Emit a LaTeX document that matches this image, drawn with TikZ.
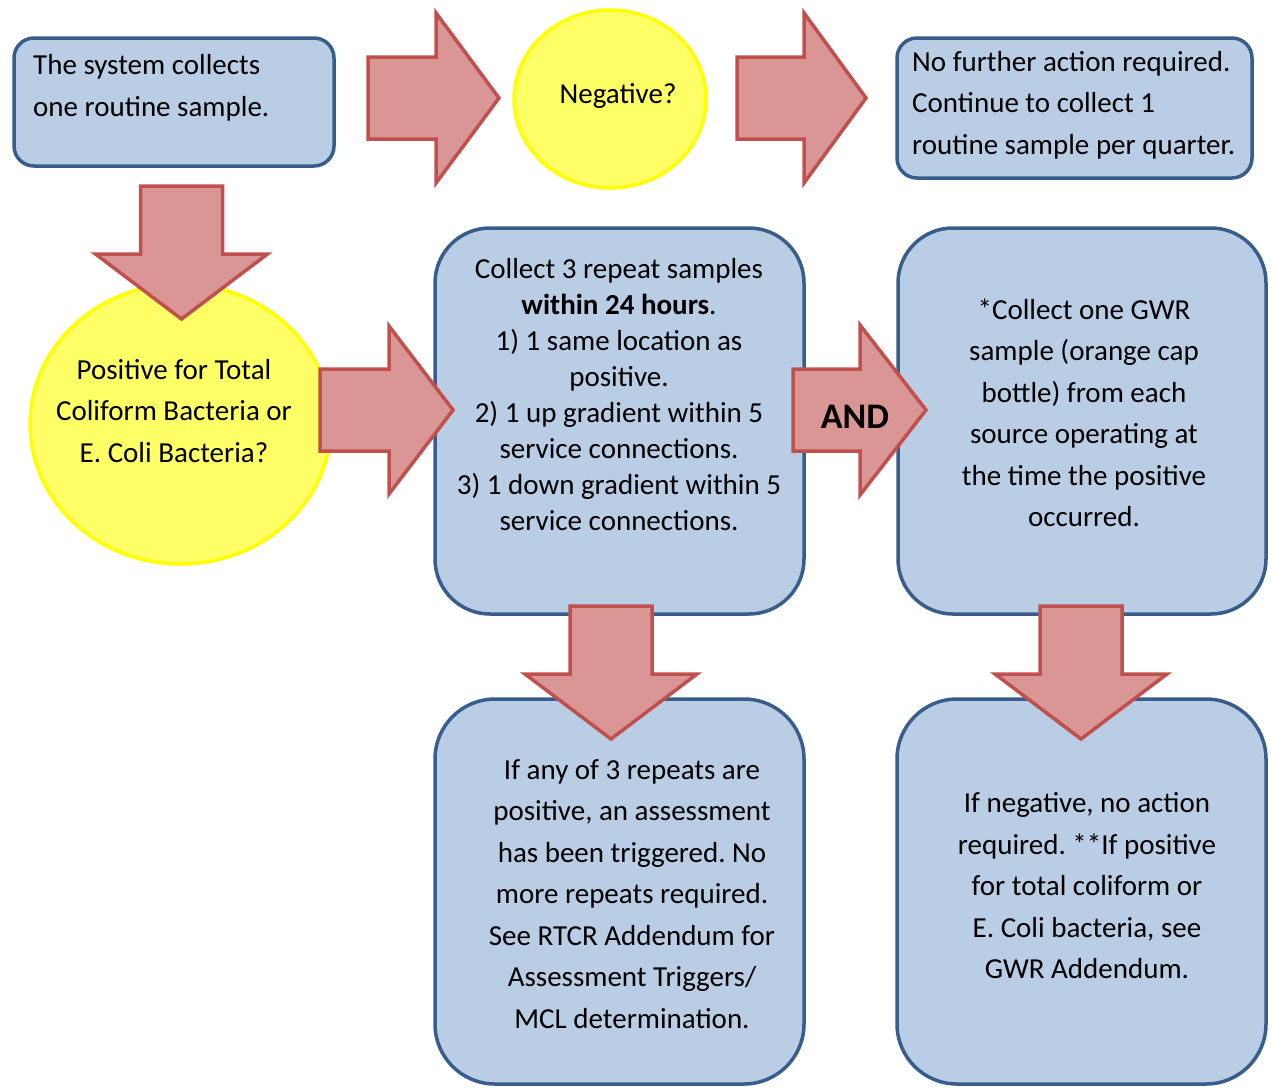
\documentclass[tikz,border=0pt]{standalone}
\usepackage{fontspec}
\setmainfont{Carlito}
\usetikzlibrary{shapes.geometric}
\definecolor{bfill}{HTML}{B9CDE5}
\definecolor{bdraw}{HTML}{385D8A}
\definecolor{yfill}{HTML}{FFFF66}
\definecolor{ydraw}{HTML}{FFFF00}
\definecolor{rfill}{HTML}{D99694}
\definecolor{rdraw}{HTML}{C0504D}
\newcommand{\rarr}[7]{% name, x0, x1, x2, yc, h1, h2
  \draw[redarrow] ({#2},{#5-#6}) -- ({#3},{#5-#6}) -- ({#3},{#5-#7}) -- ({#4},{#5}) coordinate (#1tip)
    -- ({#3},{#5+#7}) -- ({#3},{#5+#6}) -- ({#2},{#5+#6}) -- cycle;}
\newcommand{\darr}[7]{% name, y0, y1, y2, xc, h1, h2
  \draw[redarrow] ({#5-#6},{#2}) -- ({#5-#6},{#3}) -- ({#5-#7},{#3}) -- ({#5},{#4}) coordinate (#1tip)
    -- ({#5+#7},{#3}) -- ({#5+#6},{#3}) -- ({#5+#6},{#2}) -- cycle;}
\frenchspacing
\begin{document}
\begin{tikzpicture}[x=1pt,y=-1pt,
  bluebox/.style={draw=bdraw, fill=bfill, line width=3.5pt, rounded corners=#1, inner sep=0pt},
  yell/.style={ellipse, draw=ydraw, fill=yfill, line width=3.5pt, inner sep=0pt},
  redarrow/.style={draw=rdraw, fill=rfill, line width=3.5pt},
  txt/.style={inner sep=0pt, font=\fontsize{29}{41.5}\selectfont\frenchspacing, align=center}]
\useasboundingbox (0,0) rectangle (1272,1088);
% boxes
\node[bluebox=20pt, minimum width=320pt, minimum height=128pt] (start) at (174,102) {};
\node[bluebox=20pt, minimum width=355pt, minimum height=140pt] (nofurther) at (1074.5,108) {};
\node[yell, minimum width=192pt, minimum height=178pt] (neg) at (610,99) {};
\node[yell, minimum width=301pt, minimum height=280pt] (pos) at (180.5,424) {};
\node[bluebox=55pt, minimum width=369pt, minimum height=386pt] (collect) at (619.5,421) {};
\node[bluebox=55pt, minimum width=368pt, minimum height=386pt] (gwr) at (1082,421) {};
\node[bluebox=60pt, minimum width=369pt, minimum height=385pt] (res1) at (619.5,891.5) {};
\node[bluebox=60pt, minimum width=369pt, minimum height=385pt] (res2) at (1081.5,891.5) {};
% arrows
\rarr{a1}{368}{436}{499}{98}{41}{85}
\rarr{a2}{737}{804}{866}{98}{41}{85}
\darr{a3}{186}{254}{319}{181.5}{41}{86}
\rarr{a4}{320}{389}{453}{410}{41}{84}
\rarr{a5}{793}{860}{926}{410}{41}{85}
\darr{a6}{606}{674}{739}{611}{41}{86}
\darr{a7}{606}{674}{739}{1081}{41}{86}
% texts
\node[txt, align=left, anchor=west] (t1) at (33,88) {The system collects\\one routine sample.};
\node[txt] (t2) at (618,96) {Negative?};
\node[txt, align=left, anchor=west] (t3) at (912,105) {No further action required.\\Continue to collect 1\\routine sample per quarter.};
\node[txt] (t4) at (174,411) {Positive for Total\\Coliform Bacteria or\\E. Coli Bacteria?};
\node[txt, font=\fontsize{29}{36}\selectfont] (t5) at (619,395) {Collect 3 repeat samples\\\textbf{within 24 hours}.\\1) 1 same location as\\positive.\\2) 1 up gradient within 5\\service connections.\\3) 1 down gradient within 5\\service connections.};
\node[txt, font=\fontsize{36}{40}\selectfont\bfseries] (t6) at (855,417) {AND};
\node[txt] (t7) at (1084,413) {*Collect one GWR\\sample (orange cap\\bottle) from each\\source operating at\\the time the positive\\occurred.};
\node[txt] (t8) at (632,894) {If any of 3 repeats are\\positive, an assessment\\has been triggered. No\\more repeats required.\\See RTCR Addendum for\\Assessment Triggers/\\MCL determination.};
\node[txt] (t9) at (1087,886) {If negative, no action\\required. **If positive\\for total coliform or\\E. Coli bacteria, see\\GWR Addendum.};
\end{tikzpicture}
\end{document}
